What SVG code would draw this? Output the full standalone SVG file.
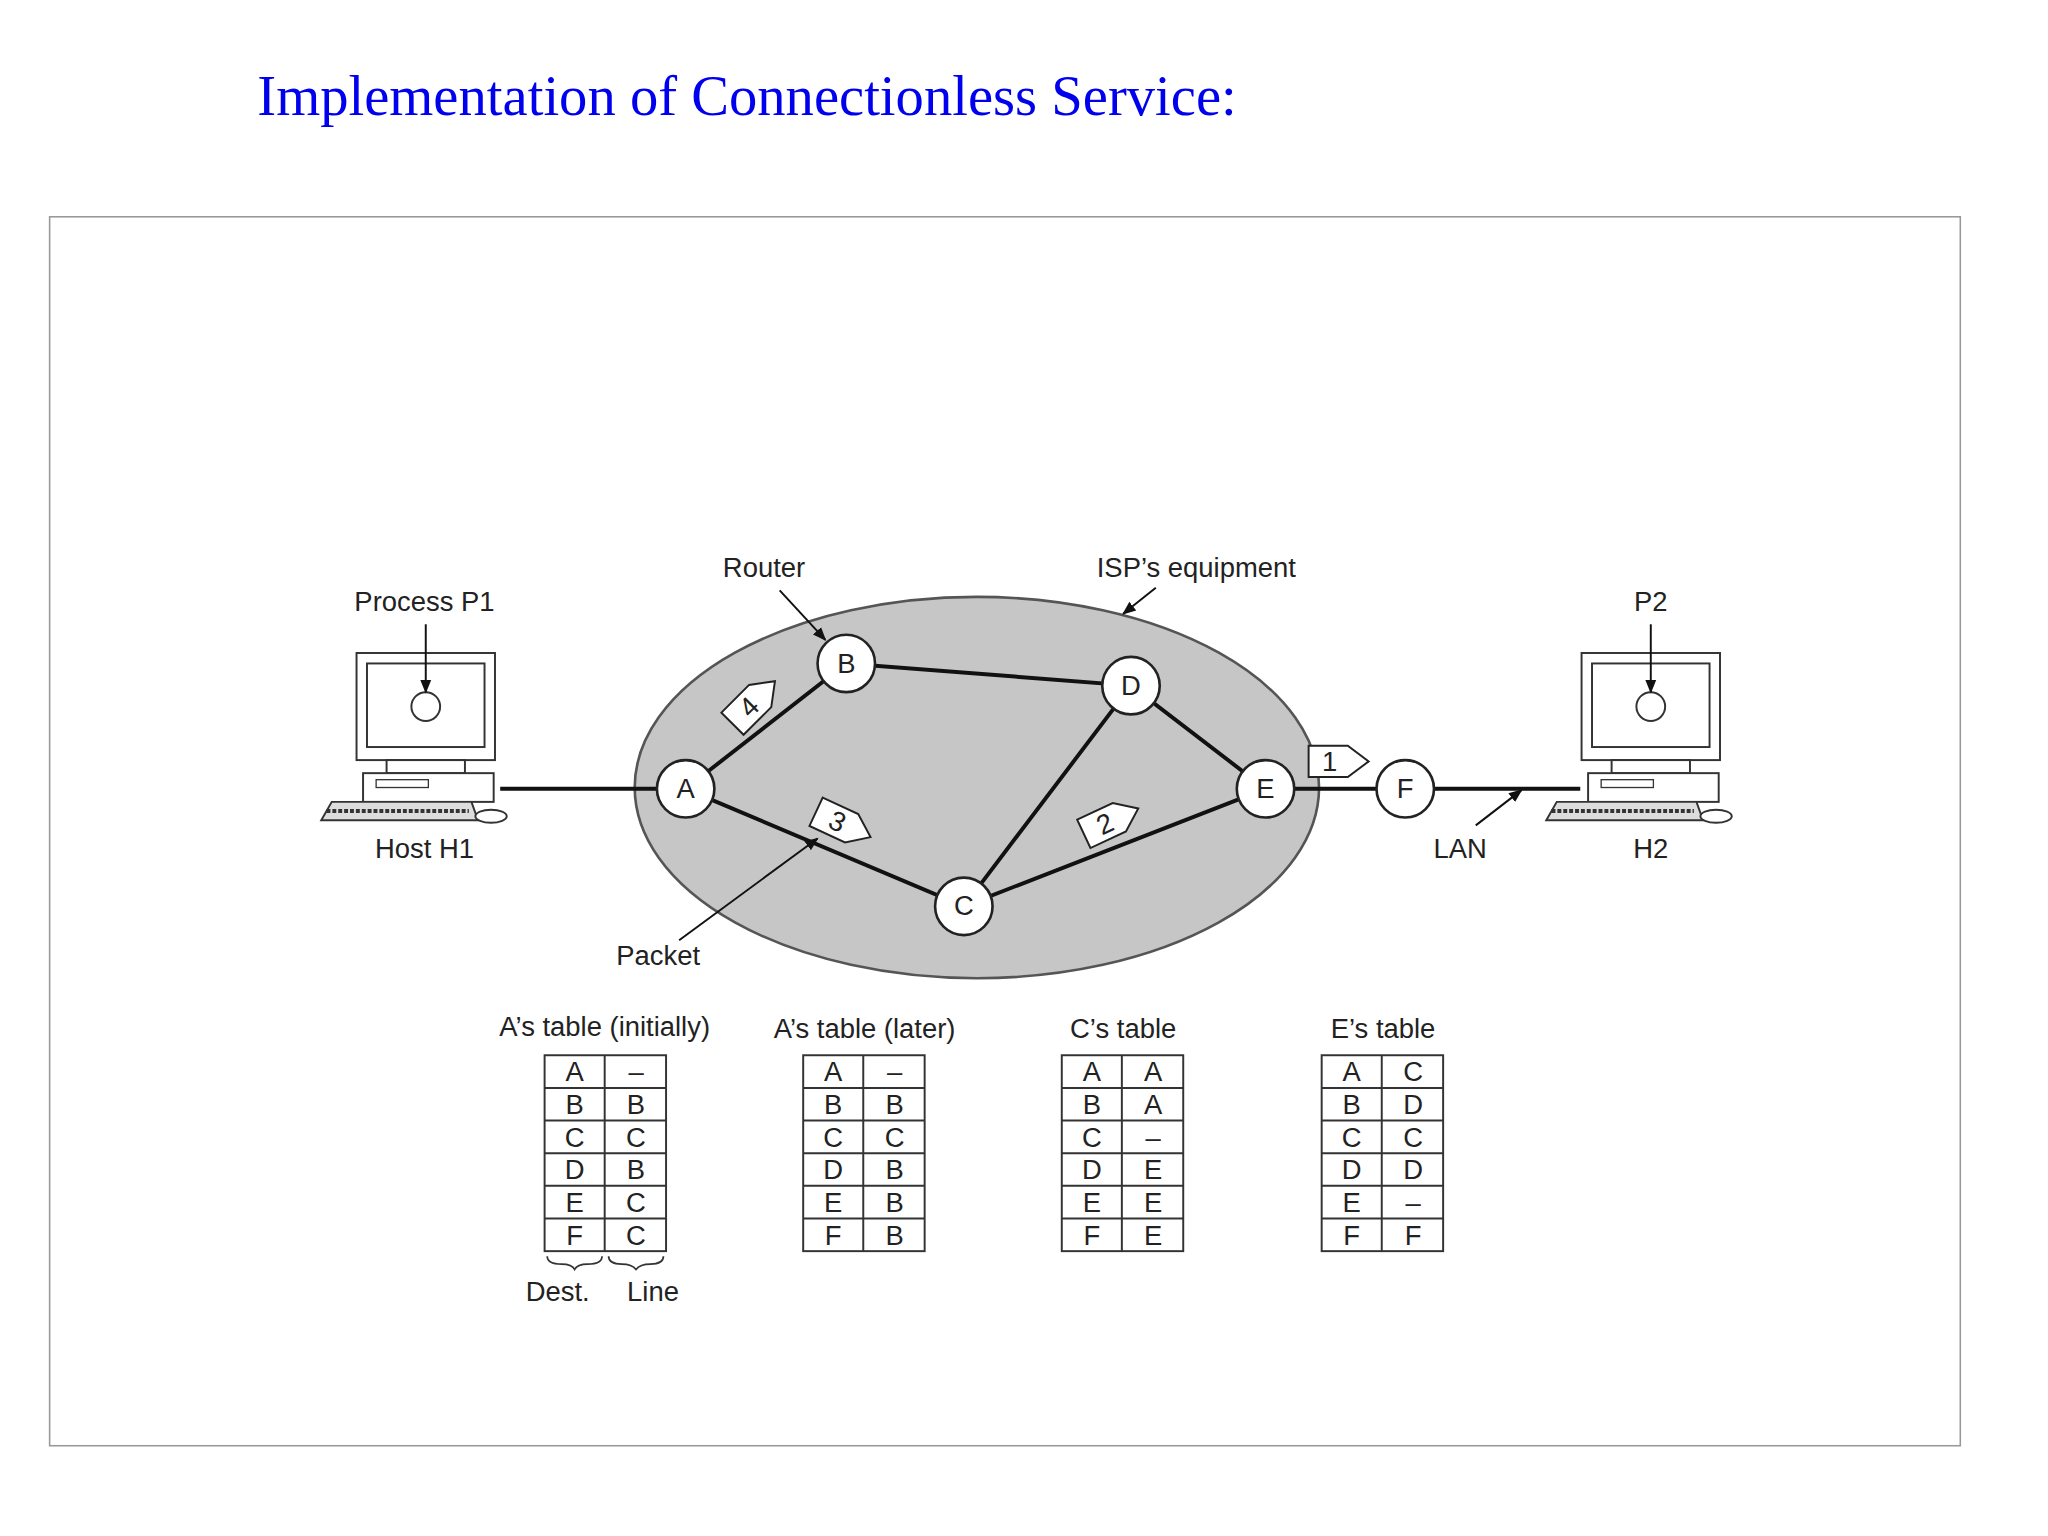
<svg xmlns="http://www.w3.org/2000/svg" width="2048" height="1536" viewBox="0 0 2048 1536">
<style>
.t{font-family:"Liberation Sans",Arial,sans-serif;font-size:21px;fill:#222;text-anchor:middle}
.n{fill:#fff;stroke:#222;stroke-width:2}
.e{stroke:#111;stroke-width:3;fill:none}
.p{fill:#fff;stroke:#222;stroke-width:1.5}
.tb{fill:#fff;stroke:#333;stroke-width:1.5}
.pc{fill:#fff;stroke:#333;stroke-width:1.5}
</style>
<defs>
<marker id="ar" viewBox="0 0 10 10" refX="9" refY="5" markerWidth="7" markerHeight="7" orient="auto"><path d="M0,1 L10,5 L0,9 z" fill="#111"/></marker>
<g id="pc">
<rect x="-53" y="-41" width="106" height="82" class="pc"/>
<rect x="-45" y="-33" width="90" height="64" class="pc"/>
<rect x="-30" y="41" width="60" height="10" class="pc"/>
<rect x="-48" y="51" width="100" height="22" class="pc"/>
<rect x="-38" y="56" width="40" height="6" fill="none" stroke="#333"/>
<path d="M-80,87 L-72,73 L35,73 L40,87 z" fill="#ddd" stroke="#333" stroke-width="1.5"/>
<path d="M-76,80 H33" stroke="#333" stroke-width="3" stroke-dasharray="3,1.5"/>
<ellipse cx="50" cy="84" rx="12" ry="5" class="pc"/>
</g>
</defs>
<rect width="2048" height="1536" fill="#fff"/>
<g transform="scale(1.306)">
<text x="197" y="88" font-family="Liberation Serif,serif" font-size="44" fill="#0000ee" textLength="750" lengthAdjust="spacingAndGlyphs">Implementation of  Connectionless Service:</text>
<rect x="38" y="166" width="1463" height="941" fill="none" stroke="#999" stroke-width="1.2"/>
<ellipse cx="748" cy="603" rx="262" ry="146" fill="#c6c6c6" stroke="#555" stroke-width="2"/>
<g id="H1"><use href="#pc" x="326" y="541"/><ellipse cx="326" cy="541" rx="11" ry="11" class="pc"/><text class="t" x="325" y="468">Process P1</text><text class="t" x="325" y="657">Host H1</text></g>
<g id="H2"><use href="#pc" x="1264" y="541"/><ellipse cx="1264" cy="541" rx="11" ry="11" class="pc"/><text class="t" x="1264" y="468">P2</text><text class="t" x="1264" y="657">H2</text></g>
<g id="connectors">
<path class="e" d="M383,604 H503 M525,604 L648,508 L866,525 L969,604 M525,604 L738,694 L866,525 M738,694 L969,604 M969,604 H1076 H1210"/>
<path d="M597,452 L632,490" stroke="#111" stroke-width="1.5" marker-end="url(#ar)"/>
<path d="M885,450 L860,470" stroke="#111" stroke-width="1.5" marker-end="url(#ar)"/>
<path d="M326,478 L326,530" stroke="#111" stroke-width="1.5" marker-end="url(#ar)"/>
<path d="M1264,478 L1264,530" stroke="#111" stroke-width="1.5" marker-end="url(#ar)"/>
<path d="M1130,632 L1165,605" stroke="#111" stroke-width="1.5" marker-end="url(#ar)"/>
<path d="M520,720 L626,642" stroke="#111" stroke-width="1.5" marker-end="url(#ar)"/>
</g>
<text class="t" x="585" y="442">Router</text>
<text class="t" x="916" y="442">ISP’s equipment</text>
<text class="t" x="1118" y="657">LAN</text>
<text class="t" x="504" y="739">Packet</text>
<g id="A"><circle class="n" cx="525" cy="604" r="22"/><text class="t" x="525" y="611">A</text></g>
<g id="B"><circle class="n" cx="648" cy="508" r="22"/><text class="t" x="648" y="515">B</text></g>
<g id="D"><circle class="n" cx="866" cy="525" r="22"/><text class="t" x="866" y="532">D</text></g>
<g id="E"><circle class="n" cx="969" cy="604" r="22"/><text class="t" x="969" y="611">E</text></g>
<g id="C"><circle class="n" cx="738" cy="694" r="22"/><text class="t" x="738" y="701">C</text></g>
<g id="F"><circle class="n" cx="1076" cy="604" r="22"/><text class="t" x="1076" y="611">F</text></g>
<g id="pk1" transform="translate(1022,583)"><path class="p" d="M-20,-12 H10 L26,0 L10,12 H-20 z"/><text class="t" x="-4" y="7" font-size="18">1</text></g>
<g id="pk2" transform="translate(848,630) rotate(-25)"><path class="p" d="M-20,-12 H10 L26,0 L10,12 H-20 z"/><text class="t" x="-2" y="7" font-size="18">2</text></g>
<g id="pk3" transform="translate(643,630) rotate(25)"><path class="p" d="M-20,-12 H10 L26,0 L10,12 H-20 z"/><text class="t" x="-2" y="7" font-size="18">3</text></g>
<g id="pk4" transform="translate(575,540) rotate(-45)"><path class="p" d="M-20,-12 H10 L26,0 L10,12 H-20 z"/><text class="t" x="-2" y="7" font-size="18">4</text></g>
<g id="tables">
<text class="t" x="463" y="793">A’s table (initially)</text>
<text class="t" x="662" y="795">A’s table (later)</text>
<text class="t" x="860" y="795">C’s table</text>
<text class="t" x="1059" y="795">E’s table</text>
<g transform="translate(417,808)"><rect class="tb" width="93" height="150"/><path d="M46,0 V150 M0,25 H93 M0,50 H93 M0,75 H93 M0,100 H93 M0,125 H93" stroke="#333" stroke-width="1.5"/>
<g class="t"><text x="23" y="20">A</text><text x="23" y="45">B</text><text x="23" y="70">C</text><text x="23" y="95">D</text><text x="23" y="120">E</text><text x="23" y="145">F</text>
<text x="70" y="20">–</text><text x="70" y="45">B</text><text x="70" y="70">C</text><text x="70" y="95">B</text><text x="70" y="120">C</text><text x="70" y="145">C</text></g></g>
<g transform="translate(615,808)"><rect class="tb" width="93" height="150"/><path d="M46,0 V150 M0,25 H93 M0,50 H93 M0,75 H93 M0,100 H93 M0,125 H93" stroke="#333" stroke-width="1.5"/>
<g class="t"><text x="23" y="20">A</text><text x="23" y="45">B</text><text x="23" y="70">C</text><text x="23" y="95">D</text><text x="23" y="120">E</text><text x="23" y="145">F</text>
<text x="70" y="20">–</text><text x="70" y="45">B</text><text x="70" y="70">C</text><text x="70" y="95">B</text><text x="70" y="120">B</text><text x="70" y="145">B</text></g></g>
<g transform="translate(813,808)"><rect class="tb" width="93" height="150"/><path d="M46,0 V150 M0,25 H93 M0,50 H93 M0,75 H93 M0,100 H93 M0,125 H93" stroke="#333" stroke-width="1.5"/>
<g class="t"><text x="23" y="20">A</text><text x="23" y="45">B</text><text x="23" y="70">C</text><text x="23" y="95">D</text><text x="23" y="120">E</text><text x="23" y="145">F</text>
<text x="70" y="20">A</text><text x="70" y="45">A</text><text x="70" y="70">–</text><text x="70" y="95">E</text><text x="70" y="120">E</text><text x="70" y="145">E</text></g></g>
<g transform="translate(1012,808)"><rect class="tb" width="93" height="150"/><path d="M46,0 V150 M0,25 H93 M0,50 H93 M0,75 H93 M0,100 H93 M0,125 H93" stroke="#333" stroke-width="1.5"/>
<g class="t"><text x="23" y="20">A</text><text x="23" y="45">B</text><text x="23" y="70">C</text><text x="23" y="95">D</text><text x="23" y="120">E</text><text x="23" y="145">F</text>
<text x="70" y="20">C</text><text x="70" y="45">D</text><text x="70" y="70">C</text><text x="70" y="95">D</text><text x="70" y="120">–</text><text x="70" y="145">F</text></g></g>
<path d="M419,962 Q419,968 430,968 Q438,968 440,972 Q442,968 450,968 Q461,968 461,962 M466,962 Q466,968 476,968 Q484,968 487,972 Q490,968 498,968 Q508,968 508,962" fill="none" stroke="#333" stroke-width="1.3"/>
<text class="t" x="427" y="996">Dest.</text>
<text class="t" x="500" y="996">Line</text>
</g>
</g>
</svg>
